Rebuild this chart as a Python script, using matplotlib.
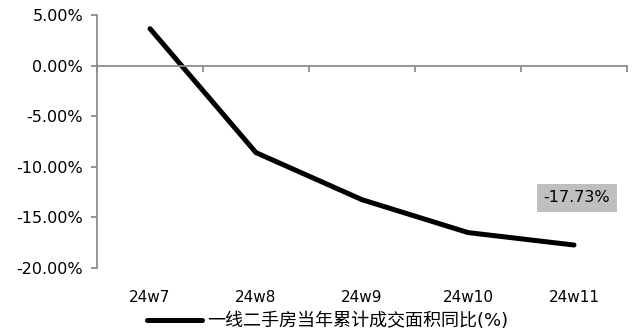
import matplotlib.pyplot as plt
from matplotlib.ticker import FuncFormatter, FixedLocator, NullFormatter

weeks = ["24w7", "24w8", "24w9", "24w10", "24w11"]
yoy = [3.65, -8.6, -13.25, -16.5, -17.73]
series_name = "一线二手房当年累计成交面积同比(%)"

AXIS_GREY = "#8c8c8c"


def main():
    fig = plt.figure(figsize=(6.44, 3.36), dpi=100)
    ax = fig.add_axes([97 / 644, 1 - 268 / 336, 530 / 644, 253 / 336])

    x = list(range(len(weeks)))
    ax.plot(x, yoy, color="black", lw=3.6, solid_capstyle="round",
            label=series_name)

    ax.set_xlim(-0.5, len(weeks) - 0.5)
    ax.set_ylim(-20, 5)
    ax.set_yticks([5, 0, -5, -10, -15, -20])
    ax.yaxis.set_major_formatter(FuncFormatter(lambda v, p: "{:.2f}%".format(v)))

    for s in ["top", "right"]:
        ax.spines[s].set_visible(False)
    ax.spines["left"].set_color(AXIS_GREY)
    ax.spines["left"].set_linewidth(1.3)
    ax.tick_params(axis="y", direction="out", length=4, width=1.3,
                   color=AXIS_GREY, labelsize=11.5, pad=6)

    # category axis line on zero, tick marks between categories
    ax.spines["bottom"].set_position(("data", 0))
    ax.spines["bottom"].set_color(AXIS_GREY)
    ax.spines["bottom"].set_linewidth(1.3)
    ax.set_xticks([])
    ax.xaxis.set_minor_locator(FixedLocator([i - 0.5 for i in range(len(weeks) + 1)]))
    ax.xaxis.set_minor_formatter(NullFormatter())
    ax.tick_params(axis="x", which="minor", direction="out", length=4,
                   width=1.3, color=AXIS_GREY)

    # category labels at the bottom of the plot
    lab = ax.secondary_xaxis("bottom")
    lab.set_xticks(x)
    lab.set_xticklabels(weeks)
    lab.tick_params(length=0, labelsize=11, pad=16)
    lab.spines["bottom"].set_visible(False)

    ax.annotate("{:.2f}%".format(yoy[-1]), xy=(x[-1], yoy[-1]),
                xytext=(2, 34), textcoords="offset points",
                ha="center", va="center", fontsize=11.5,
                bbox=dict(boxstyle="square,pad=0.42", fc="#bfbfbf", ec="none"))

    fig.legend(loc="center", bbox_to_anchor=(328 / 644, 1 - 321 / 336),
               frameon=False, handlelength=3.05, handletextpad=0.28,
               prop={"family": ["DejaVu Sans", "Noto Sans CJK SC"], "size": 13})

    fig.savefig("out.png", dpi=100)


if __name__ == "__main__":
    main()
